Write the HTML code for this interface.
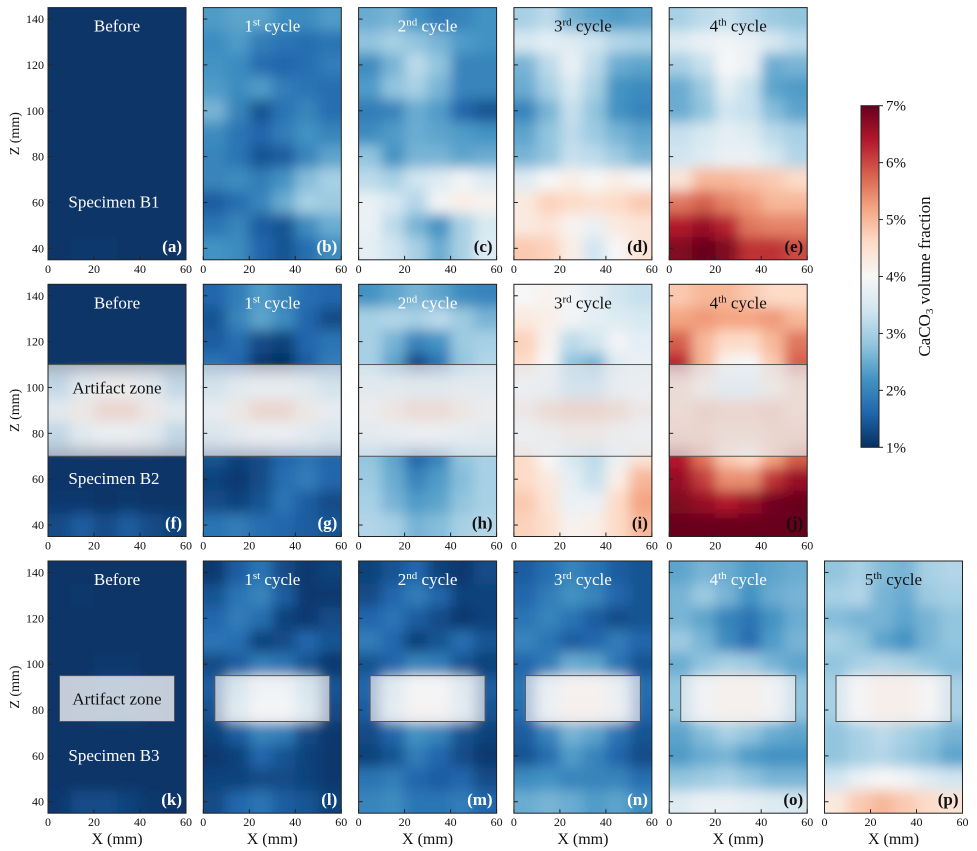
<!DOCTYPE html>
<html><head><meta charset="utf-8">
<style>
html,body{margin:0;padding:0;background:#fff;}
svg{display:block;font-family:"Liberation Serif",serif;}
</style></head>
<body>
<svg id="fig" width="977" height="851" viewBox="0 0 977 851" xmlns="http://www.w3.org/2000/svg">
<defs>
<filter id="blur" x="-10%" y="-10%" width="120%" height="120%"><feGaussianBlur stdDeviation="6.5"/></filter>
<linearGradient id="cbgrad" x1="0" y1="1" x2="0" y2="0">
<stop offset="0" stop-color="#053061"/><stop offset="0.1" stop-color="#2166ac"/><stop offset="0.2" stop-color="#4393c3"/><stop offset="0.3" stop-color="#92c5de"/><stop offset="0.4" stop-color="#d1e5f0"/><stop offset="0.5" stop-color="#f7f7f7"/><stop offset="0.6" stop-color="#fddbc7"/><stop offset="0.7" stop-color="#f4a582"/><stop offset="0.8" stop-color="#d6604d"/><stop offset="0.9" stop-color="#b2182b"/><stop offset="1" stop-color="#67001f"/>
</linearGradient>
</defs>
</svg>
<script>
// grid: columns at x = 5..55 mm, rows at z = 140..40 mm (top to bottom), values in %
const xCenters = [5,15,25,35,45,55];
const zCenters = [140,130,120,110,100,90,80,70,60,50,40];
const xTicks = [0,20,40,60];
const zTicks = [40,60,80,100,120,140];
const cbTicks = [1,2,3,4,5,6,7];
const panelLabels = ['(a)','(b)','(c)','(d)','(e)','(f)','(g)','(h)','(i)','(j)','(k)','(l)','(m)','(n)','(o)','(p)'];
const panelTitles = ['Before','1|st| cycle','2|nd| cycle','3|rd| cycle','4|th| cycle','Before','1|st| cycle','2|nd| cycle','3|rd| cycle','4|th| cycle','Before','1|st| cycle','2|nd| cycle','3|rd| cycle','4|th| cycle','5|th| cycle'];
const gridA = [[1.05,1.05,1.05,1.05,1.05,1.05],[1.05,1.05,1.05,1.05,1.05,1.05],[1.05,1.05,1.05,1.05,1.05,1.05],[1.05,1.05,1.05,1.05,1.05,1.05],[1.05,1.05,1.05,1.05,1.05,1.05],[1.05,1.05,1.05,1.05,1.05,1.05],[1.05,1.05,1.05,1.05,1.05,1.05],[1.05,1.05,1.05,1.05,1.05,1.05],[1.05,1.05,1.05,1.05,1.05,1.05],[1.05,1.05,1.05,1.05,1.05,1.05],[1.05,1.1,1.1,1.05,1.05,1.05]];
const gridB = [[2.3,2.4,2.4,2.1,2.1,2.3],[2.1,2.3,1.9,1.8,1.7,1.8],[2.2,2.1,1.7,1.6,1.7,1.9],[2.3,2.1,2.3,1.9,1.8,1.7],[2.6,2.0,1.4,1.8,2.0,1.7],[2.1,1.8,1.6,1.9,2.2,2.0],[2.0,1.8,1.4,1.5,2.0,2.4],[2.0,2.1,1.9,2.2,2.7,3.0],[1.5,1.7,2.0,2.5,3.0,2.9],[1.8,2.0,1.5,1.4,2.1,2.5],[2.2,2.1,1.6,1.4,1.7,2.1]];
const gridC = [[2.5,2.6,2.2,1.9,2.0,2.2],[2.8,3.0,2.8,2.6,2.3,2.2],[2.1,2.6,3.2,2.8,2.0,2.0],[2.3,2.8,3.0,2.6,2.0,2.0],[1.9,2.0,2.5,2.3,1.6,1.4],[2.1,2.3,2.5,2.4,2.3,2.2],[2.8,2.2,2.6,2.6,2.4,2.5],[3.2,3.0,3.4,3.6,3.9,3.6],[3.8,3.5,3.1,3.9,4.2,4.1],[3.8,3.2,2.6,2.2,3.0,3.5],[3.7,3.4,3.0,2.5,3.0,3.6]];
const gridD = [[3.0,3.2,2.6,2.4,2.3,2.4],[3.5,3.7,3.6,3.4,3.1,3.0],[2.6,3.2,3.8,3.2,2.5,2.4],[2.5,3.0,3.5,3.0,2.2,2.1],[2.0,2.6,3.3,2.8,2.2,2.0],[2.4,2.8,3.2,2.9,2.6,2.4],[2.6,2.8,3.3,3.2,2.9,2.6],[3.6,4.0,4.2,4.0,4.2,4.0],[4.3,4.7,4.6,4.5,4.6,4.8],[4.3,4.4,4.1,3.8,4.3,4.4],[4.8,4.7,4.2,3.4,4.0,4.4]];
const gridE = [[3.0,3.2,3.3,3.1,2.9,2.8],[3.6,3.8,3.9,3.8,3.5,3.2],[3.0,3.3,4.0,3.8,2.5,2.6],[2.5,2.9,3.7,3.3,2.4,2.3],[2.5,2.8,3.4,3.3,2.7,2.4],[3.3,3.5,3.7,3.6,3.2,3.0],[3.4,3.6,3.8,3.8,3.5,3.1],[4.4,5.0,5.0,4.9,4.8,4.6],[5.6,5.8,5.5,5.3,5.0,5.0],[6.4,6.6,6.3,5.6,5.5,5.5],[6.8,7.0,6.8,6.2,6.2,6.0]];
const gridF = [[1.05,1.05,1.05,1.05,1.05,1.05],[1.05,1.05,1.05,1.05,1.05,1.05],[1.05,1.05,1.05,1.05,1.05,1.05],[1.05,1.05,1.05,1.05,1.05,1.05],[2.5,3.5,4.2,4.2,3.5,2.5],[3.5,4.5,5.2,5.2,4.5,3.5],[2.5,3.5,4.0,4.0,3.5,2.5],[1.05,1.05,1.05,1.05,1.05,1.05],[1.05,1.05,1.05,1.05,1.05,1.05],[1.1,1.1,1.05,1.1,1.05,1.05],[1.3,1.5,1.3,1.5,1.3,1.2]];
const gridG = [[1.6,1.9,2.3,2.0,1.7,1.6],[1.4,2.0,2.4,2.1,1.6,1.3],[1.5,1.7,1.3,1.2,1.6,1.8],[1.8,1.6,1.1,1.0,1.5,1.9],[3.0,3.5,3.8,3.8,3.5,3.0],[3.8,4.5,5.2,5.2,4.5,3.8],[3.2,3.6,4.0,4.0,3.6,3.2],[1.4,1.2,1.3,1.6,1.8,1.6],[1.2,1.1,1.3,1.7,1.9,1.6],[1.3,1.2,1.4,1.8,1.5,1.3],[1.8,1.9,1.7,1.6,1.5,1.4]];
const gridH = [[2.2,2.4,2.6,2.4,2.1,2.0],[3.0,3.1,3.0,3.2,2.9,2.6],[3.0,2.6,2.0,2.2,2.9,3.0],[3.0,2.4,1.3,1.8,2.8,3.1],[3.5,3.5,3.4,3.4,3.6,3.6],[4.2,4.6,5.0,5.0,4.6,4.2],[3.6,3.8,4.0,4.0,3.8,3.6],[2.8,2.4,1.6,2.0,2.8,3.0],[2.9,2.5,2.0,2.3,2.7,3.0],[3.0,2.6,2.3,2.4,2.8,3.0],[3.1,3.0,2.6,2.7,3.0,3.1]];
const gridI = [[4.0,4.1,3.9,3.7,3.4,3.3],[4.3,4.2,3.9,3.7,3.6,3.5],[4.7,4.1,3.2,3.4,3.9,3.7],[4.6,4.0,2.8,2.6,3.6,3.8],[4.0,3.8,3.0,3.0,3.8,4.0],[4.5,5.0,5.2,5.2,5.0,4.5],[4.0,4.2,4.5,4.5,4.2,4.0],[4.6,4.0,3.5,3.2,3.8,4.4],[4.6,4.3,3.7,3.3,4.2,5.0],[4.8,4.4,3.8,3.8,4.6,5.2],[4.7,4.5,4.1,4.2,4.6,5.0]];
const gridJ = [[4.8,5.0,5.0,4.8,4.6,4.6],[5.2,5.3,5.2,5.2,5.3,5.0],[5.8,5.0,4.6,4.6,5.0,5.6],[6.3,5.0,4.1,4.0,4.8,5.8],[5.0,4.5,3.5,3.5,4.5,5.0],[5.0,5.3,5.2,5.2,5.3,5.0],[5.2,5.2,5.0,5.0,5.2,5.2],[6.4,5.6,4.8,4.6,5.2,5.8],[6.6,6.1,5.4,5.4,6.2,6.6],[6.8,6.6,6.4,6.6,6.9,7.0],[7.0,7.0,7.0,7.0,7.0,7.0]];
const gridK = [[1.05,1.05,1.05,1.05,1.05,1.05],[1.05,1.1,1.05,1.05,1.05,1.05],[1.05,1.05,1.05,1.05,1.05,1.05],[1.05,1.05,1.05,1.05,1.05,1.05],[1.05,1.05,1.1,1.1,1.05,1.05],[1.05,1.1,1.2,1.2,1.1,1.05],[1.05,1.1,1.2,1.2,1.1,1.05],[1.05,1.05,1.05,1.05,1.05,1.05],[1.05,1.05,1.05,1.05,1.05,1.05],[1.05,1.05,1.05,1.05,1.05,1.05],[1.1,1.3,1.3,1.2,1.1,1.05]];
const gridL = [[1.1,1.5,1.8,1.3,1.1,1.2],[1.4,1.8,2.0,1.5,1.1,1.1],[1.6,1.9,1.7,1.2,1.1,1.3],[1.8,1.7,1.2,1.3,1.6,1.4],[1.3,1.5,1.9,1.8,1.4,1.1],[1.5,3.0,3.8,3.8,3.0,1.4],[1.4,3.2,4.0,4.0,3.2,1.3],[1.2,1.5,2.0,1.9,1.3,1.1],[1.1,1.2,1.6,1.4,1.2,1.1],[1.2,1.2,1.3,1.3,1.2,1.1],[1.3,1.6,1.8,1.5,1.4,1.2]];
const gridM = [[1.2,1.4,1.6,1.2,1.1,1.3],[1.3,1.6,1.9,1.6,1.2,1.2],[1.6,1.8,1.5,1.3,1.1,1.2],[1.9,1.6,1.2,1.4,1.7,1.4],[1.4,1.6,2.0,1.9,1.4,1.2],[1.6,3.2,4.0,4.0,3.2,1.5],[1.5,3.3,4.1,4.1,3.3,1.4],[1.3,1.6,2.2,2.0,1.4,1.2],[1.2,1.4,1.9,1.6,1.3,1.1],[1.8,1.9,1.6,1.5,1.6,1.3],[2.0,2.1,1.8,1.8,1.9,1.6]];
const gridN = [[1.5,1.7,2.0,1.8,1.5,1.4],[1.6,1.9,2.2,2.0,1.6,1.4],[1.8,2.0,1.8,1.5,1.3,1.4],[2.0,1.8,1.5,1.6,1.9,1.6],[1.6,1.9,2.5,2.4,1.8,1.4],[1.8,3.5,4.2,4.2,3.5,1.7],[1.7,3.6,4.3,4.3,3.6,1.6],[1.5,2.0,2.6,2.4,1.8,1.4],[1.4,1.7,2.3,2.0,1.6,1.3],[2.1,2.2,2.0,2.0,2.0,1.7],[2.5,2.6,2.5,2.3,2.4,2.1]];
const gridO = [[2.4,2.6,2.5,2.3,2.4,2.5],[2.6,2.9,2.6,2.2,2.5,2.6],[2.6,2.4,2.0,1.8,2.2,2.5],[2.9,2.6,2.1,1.7,2.3,2.6],[2.5,2.8,3.0,2.9,2.6,2.4],[2.8,3.8,4.3,4.3,3.8,2.8],[2.8,3.8,4.3,4.3,3.8,2.8],[2.4,2.7,3.0,2.8,2.5,2.4],[2.3,2.5,2.6,2.3,2.2,2.2],[2.8,2.9,3.0,2.8,2.6,2.6],[3.6,3.8,3.8,3.7,3.6,3.5]];
const gridP = [[2.8,3.0,2.7,2.6,3.0,3.1],[3.0,3.1,2.6,2.5,2.9,3.0],[2.7,2.6,2.6,2.4,2.6,2.8],[3.0,2.8,2.4,2.2,2.6,2.8],[2.8,3.0,3.1,3.0,2.8,2.7],[3.0,4.0,4.4,4.4,4.0,3.0],[3.0,4.0,4.4,4.4,4.0,3.0],[2.8,3.0,3.2,3.0,2.8,2.6],[2.8,3.0,3.1,2.9,2.7,2.4],[3.4,3.8,4.0,3.9,3.6,3.4],[4.3,4.8,5.0,4.8,4.6,4.4]];
const grids = [gridA,gridB,gridC,gridD,gridE,gridF,gridG,gridH,gridI,gridJ,gridK,gridL,gridM,gridN,gridO,gridP];

const NS = 'http://www.w3.org/2000/svg';
const svg = document.getElementById('fig');
const stops = [[5,48,97],[33,102,172],[67,147,195],[146,197,222],[209,229,240],[247,247,247],[253,219,199],[244,165,130],[214,96,77],[178,24,43],[103,0,31]];
function cmap(v){
  let t = Math.max(0, Math.min(1, (v-1)/6)) * 10;
  let i = Math.min(9, Math.floor(t)), f = t - i;
  const a = stops[i], b = stops[i+1];
  return 'rgb(' + a.map((c,k)=>Math.round(c+(b[k]-c)*f)).join(',') + ')';
}
function el(tag, attrs, parent){
  const e = document.createElementNS(NS, tag);
  for (const k in attrs) e.setAttribute(k, attrs[k]);
  (parent||svg).appendChild(e);
  return e;
}
const colX = [48, 203.3, 358.6, 513.9, 669.2, 824.5];
const rowY = [7.6, 284.3, 561];
const PW = 138, PH = 252.2;
const lightTitle = [1,1,1,0,0, 1,1,1,0,0, 1,1,1,1,1,0];
const lightLabel = [1,1,0,0,0, 1,1,0,0,0, 1,1,1,1,0,0];
const panels = [];
for (let r=0;r<3;r++) for (let c=0;c<(r===2?6:5);c++) panels.push([r,c]);

panels.forEach(([r,c], p) => {
  const x0 = colX[c], y0 = rowY[r];
  const sx = v => x0 + v/60*PW;
  const sz = v => y0 + (145-v)/110*PH;
  const g = el('g', {});
  
  
  const cp = el('clipPath', {id:'cp'+p}, g);
  el('rect', {x:x0, y:y0, width:PW, height:PH}, cp);
  const clipG = el('g', {'clip-path':'url(#cp'+p+')'}, g);
  const cells = el('g', {filter:'url(#blur)'}, clipG);
  const grid = grids[p];
  grid.forEach((row, ri) => row.forEach((v, ci) => {
    let xa = sx(xCenters[ci]-5), xb = sx(xCenters[ci]+5);
    let ya = sz(zCenters[ri]+5), yb = sz(zCenters[ri]-5);
    if (ci===0) xa -= 20; if (ci===row.length-1) xb += 20;
    if (ri===0) ya -= 20; if (ri===grid.length-1) yb += 20;
    const cell = el('rect', {x:xa, y:ya, width:xb-xa+0.5, height:yb-ya+0.5, fill:cmap(v)}, cells);
    
    
  }));
  if (r===1) {
    const o = el('rect', {x:x0, y:sz(110), width:PW, height:sz(70)-sz(110), fill:'#e6e9ee', 'fill-opacity':0.7, stroke:'#555', 'stroke-width':1}, g);
    
    
  } else if (r===2) {
    const o = el('rect', {x:sx(5), y:sz(95), width:sx(55)-sx(5), height:sz(75)-sz(95), fill:'#f2f3f5', 'fill-opacity':(c===0?0.8:0.65), stroke:'#555', 'stroke-width':1}, g);
    
    
  }
  const fr = el('rect', {x:x0, y:y0, width:PW, height:PH, fill:'none', stroke:'#222', 'stroke-width':1}, g);
  
  
  zTicks.forEach(t => {
    el('line', {x1:x0, x2:x0+4, y1:sz(t), y2:sz(t), stroke:'#222', 'stroke-width':1}, g);
    if (c===0) {
      const tl = el('text', {x:x0-4, y:sz(t)+4, 'text-anchor':'end', 'font-size':12, fill:'#111'}, g);
      tl.textContent = t;
      
      
    }
  });
  xTicks.forEach(t => {
    el('line', {x1:sx(t), x2:sx(t), y1:y0+PH, y2:y0+PH-4, stroke:'#222', 'stroke-width':1}, g);
    const tl = el('text', {x:sx(t), y:y0+PH+13, 'text-anchor':'middle', 'font-size':12, fill:'#111'}, g);
    tl.textContent = t;
    
    
  });
  const parts = panelTitles[p].split('|');
  const tt = el('text', {x:x0+PW/2, y:y0+24, 'text-anchor':'middle', 'font-size':17, fill: lightTitle[p] ? '#fff' : '#111'}, g);
  
  
  if (parts.length === 1) tt.textContent = parts[0];
  else {
    const a = el('tspan', {}, tt); a.textContent = parts[0];
    const b = el('tspan', {dy:-6, 'font-size':11}, tt); b.textContent = parts[1];
    const d = el('tspan', {dy:6}, tt); d.textContent = parts[2];
  }
  const pl = el('text', {x:x0+PW-4, y:y0+PH-8, 'text-anchor':'end', 'font-size':17, 'font-weight':'bold', fill: lightLabel[p] ? '#fff' : '#111'}, g);
  pl.textContent = panelLabels[p];
  
  
  if (c===0) {
    const sp = el('text', {x:x0+PW/2-3, y:sz(60)+5, 'text-anchor':'middle', 'font-size':17, fill:'#fff'}, g);
    sp.textContent = 'Specimen B' + (r+1);
    
    
    if (r>0) {
      const az = el('text', {x:x0+PW/2, y:(r===1?sz(100):sz(85))+6, 'text-anchor':'middle', 'font-size':17, fill:'#111'}, g);
      az.textContent = 'Artifact zone';
      
      
    }
    const yl = el('text', {x:0, y:0, transform:'translate(19,'+(y0+PH/2)+') rotate(-90)', 'text-anchor':'middle', 'font-size':14, fill:'#111'}, g);
    yl.textContent = 'Z (mm)';
    
    
  }
  if (r===2) {
    const xl = el('text', {x:x0+PW/2, y:y0+PH+31, 'text-anchor':'middle', 'font-size':16, fill:'#111'}, g);
    xl.textContent = 'X (mm)';
    
    
  }
});

const cb = el('g', {});


const cbX = 861, cbTop = 105.7, cbBot = 447.3, cbW = 18;
el('rect', {x:cbX, y:cbTop, width:cbW, height:cbBot-cbTop, fill:'url(#cbgrad)', stroke:'#222', 'stroke-width':1}, cb);
const cy = v => cbBot - (v-1)/6*(cbBot-cbTop);
cbTicks.forEach(t => {
  el('line', {x1:cbX+cbW, x2:cbX+cbW+4, y1:cy(t), y2:cy(t), stroke:'#222'}, cb);
  const tl = el('text', {x:cbX+cbW+7, y:cy(t)+5, 'font-size':15, fill:'#111'}, cb);
  tl.textContent = t + '%';
  
  
});
const ct = el('text', {x:0, y:0, transform:'translate(930,'+((cbTop+cbBot)/2)+') rotate(-90)', 'text-anchor':'middle', 'font-size':17, fill:'#111'}, cb);


const c1 = el('tspan', {}, ct); c1.textContent = 'CaCO';
const c2 = el('tspan', {'font-size':11, dy:3}, ct); c2.textContent = '3';
const c3 = el('tspan', {dy:-3}, ct); c3.textContent = ' volume fraction';
</script>
</body></html>
